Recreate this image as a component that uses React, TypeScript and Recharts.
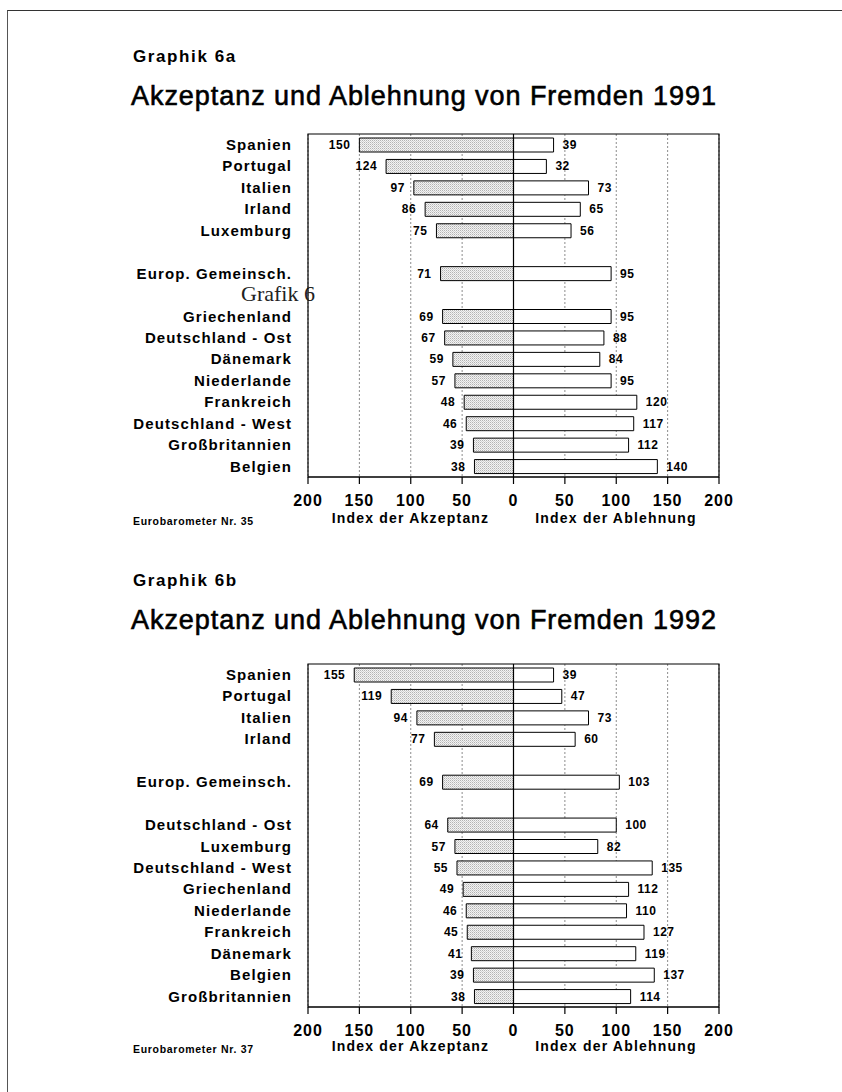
import React from "react";
import {
  BarChart,
  Bar,
  XAxis,
  YAxis,
  CartesianGrid,
  ReferenceLine,
  ReferenceArea,
  LabelList,
} from "recharts";

// 1991 (Eurobarometer Nr. 35) -- "" marks an empty spacer row
const categories91 = [
  "Spanien", "Portugal", "Italien", "Irland", "Luxemburg", "",
  "Europ. Gemeinsch.", "",
  "Griechenland", "Deutschland - Ost", "Dänemark", "Niederlande",
  "Frankreich", "Deutschland - West", "Großbritannien", "Belgien",
];
const acceptance91 = [150, 124, 97, 86, 75, null, 71, null, 69, 67, 59, 57, 48, 46, 39, 38];
const rejection91 = [39, 32, 73, 65, 56, null, 95, null, 95, 88, 84, 95, 120, 117, 112, 140];

// 1992 (Eurobarometer Nr. 37)
const categories92 = [
  "Spanien", "Portugal", "Italien", "Irland", "",
  "Europ. Gemeinsch.", "",
  "Deutschland - Ost", "Luxemburg", "Deutschland - West", "Griechenland",
  "Niederlande", "Frankreich", "Dänemark", "Belgien", "Großbritannien",
];
const acceptance92 = [155, 119, 94, 77, null, 69, null, 64, 57, 55, 49, 46, 45, 41, 39, 38];
const rejection92 = [39, 47, 73, 60, null, 103, null, 100, 82, 135, 112, 110, 127, 119, 137, 114];

const xTicks = [-200, -150, -100, -50, 0, 50, 100, 150, 200];

const FONT = '"Liberation Sans", Arial, Helvetica, sans-serif';

function buildRows(cats: string[], acc: (number | null)[], rej: (number | null)[]) {
  return cats.map((c, i) => ({
    key: c || `gap${i}`,
    acc: acc[i] == null ? null : -(acc[i] as number),
    rej: rej[i],
  }));
}

const valueStyle = {
  fontFamily: FONT,
  fontSize: 12,
  fontWeight: 700,
  letterSpacing: 0.5,
  fill: "#000",
};

const LeftLabel = (props: any) => {
  const { x, y, width, height, value } = props;
  if (value == null) return null;
  const left = Math.min(Number(x), Number(x) + Number(width));
  return (
    <text x={left - 9} y={Number(y) + Number(height) / 2} textAnchor="end" dominantBaseline="central" style={valueStyle}>
      {Math.abs(value)}
    </text>
  );
};

const RightLabel = (props: any) => {
  const { x, y, width, height, value } = props;
  if (value == null) return null;
  const right = Math.max(Number(x), Number(x) + Number(width));
  return (
    <text x={right + 9} y={Number(y) + Number(height) / 2} textAnchor="start" dominantBaseline="central" style={valueStyle}>
      {value}
    </text>
  );
};

interface PanelProps {
  top: number; // vertical shift of the headings
  plotShift: number; // vertical shift of the plot block
  footShift: number; // vertical shift of axis titles / source line
  heading: string;
  title: string;
  source: string;
  categories: string[];
  acceptance: (number | null)[];
  rejection: (number | null)[];
  patternId: string;
}

function Panel(p: PanelProps) {
  const rows = buildRows(p.categories, p.acceptance, p.rejection);
  const plotTop = 134 + p.plotShift;
  const chartTop = plotTop - 10;

  const footText = {
    position: "absolute" as const,
    top: 511 + p.footShift,
    textAlign: "center" as const,
    fontFamily: FONT,
    fontSize: 14,
    fontWeight: 700,
    letterSpacing: 1.2,
    lineHeight: "14px",
    whiteSpace: "nowrap" as const,
  };

  return (
    <>
      <div
        style={{
          position: "absolute",
          left: 133,
          top: 48 + p.top,
          fontFamily: FONT,
          fontSize: 17,
          fontWeight: 700,
          letterSpacing: 1.6,
          lineHeight: "17px",
          whiteSpace: "nowrap",
        }}
      >
        {p.heading}
      </div>
      <div
        style={{
          position: "absolute",
          left: 131,
          top: 83 + p.top,
          fontFamily: FONT,
          fontSize: 27,
          fontWeight: 400,
          letterSpacing: 0.95,
          lineHeight: "27px",
          whiteSpace: "nowrap",
          WebkitTextStroke: "0.6px #000",
        }}
      >
        {p.title}
      </div>

      <div style={{ position: "absolute", left: 0, top: chartTop }}>
        <BarChart
          width={740}
          height={400}
          data={rows}
          layout="vertical"
          stackOffset="sign"
          margin={{ top: 10, right: 21, bottom: 0, left: 0 }}
        >
          <defs>
            <pattern id={p.patternId} width="2" height="2" patternUnits="userSpaceOnUse">
              <rect width="2" height="2" fill="#f3f3f3" />
              <rect x="0" y="0" width="1" height="1" fill="#b3b3b3" />
              <rect x="1" y="1" width="1" height="1" fill="#d2d2d2" />
            </pattern>
          </defs>
          <CartesianGrid horizontal={false} stroke="#8c8c8c" strokeDasharray="2 2" />
          <XAxis
            type="number"
            domain={[-200, 200]}
            ticks={xTicks}
            interval={0}
            allowDataOverflow
            tickFormatter={(v: number) => String(Math.abs(v))}
            axisLine={{ stroke: "#000", strokeWidth: 1.2 }}
            tickLine={{ stroke: "#000", strokeWidth: 1.2 }}
            tickSize={7}
            tickMargin={11}
            height={47}
            tick={{ fontFamily: FONT, fontSize: 16, fontWeight: 700, fill: "#000", letterSpacing: 1 }}
          />
          <YAxis
            type="category"
            dataKey="key"
            width={308}
            interval={0}
            tickLine={false}
            axisLine={false}
            tickSize={0}
            tickMargin={16}
            tickFormatter={(v: string) => (v.startsWith("gap") ? "" : v)}
            tick={{ fontFamily: FONT, fontSize: 15, fontWeight: 700, fill: "#000", letterSpacing: 1.1 }}
          />
          <ReferenceArea x1={-200} x2={200} fill="none" stroke="#000" strokeWidth={1.2} fillOpacity={0} />
          <Bar
            dataKey="acc"
            stackId="s"
            barSize={14}
            fill={`url(#${p.patternId})`}
            stroke="#000"
            strokeWidth={1}
            isAnimationActive={false}
          >
            <LabelList dataKey="acc" content={LeftLabel} />
          </Bar>
          <Bar
            dataKey="rej"
            stackId="s"
            barSize={14}
            fill="#fff"
            stroke="#000"
            strokeWidth={1}
            isAnimationActive={false}
          >
            <LabelList dataKey="rej" content={RightLabel} />
          </Bar>
          <ReferenceLine x={0} stroke="#000" strokeWidth={1.2} />
        </BarChart>
      </div>

      {/* axis titles */}
      <div style={{ ...footText, left: 308, width: 205 }}>Index der Akzeptanz</div>
      <div style={{ ...footText, left: 513, width: 206 }}>Index der Ablehnung</div>
      <div
        style={{
          position: "absolute",
          left: 133,
          top: 516 + p.footShift,
          fontFamily: FONT,
          fontSize: 10.5,
          fontWeight: 700,
          letterSpacing: 0.7,
          lineHeight: "10.5px",
          whiteSpace: "nowrap",
        }}
      >
        {p.source}
      </div>
    </>
  );
}

export default function App() {
  return (
    <div
      style={{
        position: "absolute",
        left: 0,
        top: 0,
        width: 842,
        height: 1092,
        background: "#fff",
        overflow: "hidden",
        color: "#000",
      }}
    >
      {/* scanned page edge */}
      <div
        style={{
          position: "absolute",
          left: 7,
          top: 10,
          width: 835,
          height: 1082,
          borderTop: "1.5px solid #333",
          borderLeft: "1px solid #555",
        }}
      />
      {/* stray overprint from the source page */}
      <div
        style={{
          position: "absolute",
          left: 241,
          top: 283,
          fontFamily: '"Liberation Serif", "Times New Roman", serif',
          fontSize: 22,
          lineHeight: "22px",
          color: "#222",
          whiteSpace: "nowrap",
        }}
      >
        Grafik 6
      </div>
      <Panel
        top={0}
        plotShift={0}
        footShift={0}
        heading="Graphik 6a"
        title="Akzeptanz und Ablehnung von Fremden 1991"
        source="Eurobarometer Nr. 35"
        categories={categories91}
        acceptance={acceptance91}
        rejection={rejection91}
        patternId="stipple91"
      />
      <Panel
        top={524}
        plotShift={530}
        footShift={528}
        heading="Graphik 6b"
        title="Akzeptanz und Ablehnung von Fremden 1992"
        source="Eurobarometer Nr. 37"
        categories={categories92}
        acceptance={acceptance92}
        rejection={rejection92}
        patternId="stipple92"
      />
    </div>
  );
}
